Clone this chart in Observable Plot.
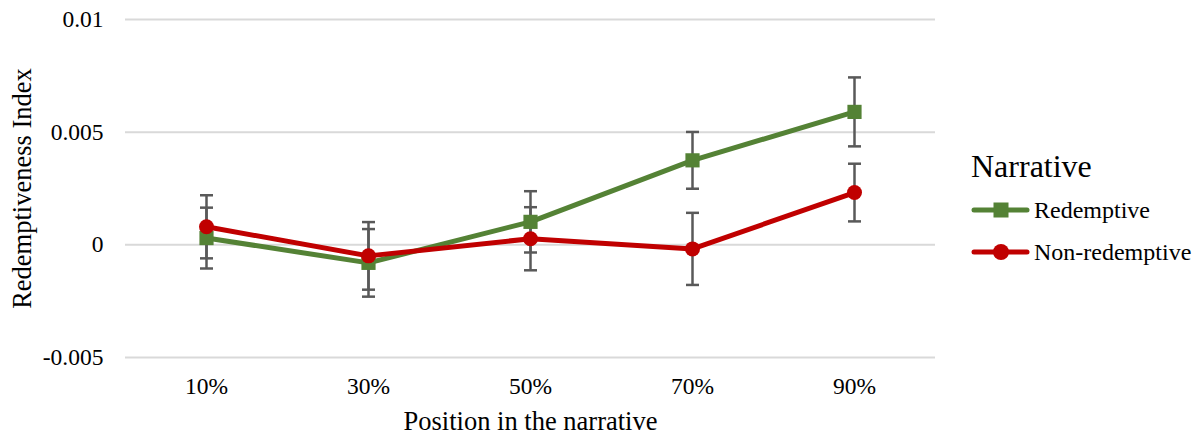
<!DOCTYPE html>
<html><head><meta charset="utf-8">
<script src="https://cdn.jsdelivr.net/npm/d3@7"></script>
<script src="https://cdn.jsdelivr.net/npm/@observablehq/plot@0.6"></script>
<style>
body{margin:0;background:#fff;font-family:"Liberation Serif",serif;}
#wrap{position:relative;width:1195px;height:437px;}
#wrap svg text{font-family:"Liberation Serif",serif;}
#legend{position:absolute;left:0;top:0;color:#000;font-family:"Liberation Serif",serif !important;}
#legend div{position:absolute;white-space:nowrap;font-family:"Liberation Serif",serif;}
#legend .title{font-size:32px;line-height:32px;left:971px;top:150px;}
#legend .item{display:flex;align-items:center;font-size:24px;height:30px;left:970px;}
#legend svg{margin-right:3px;}
</style></head>
<body><div id="wrap"><div id="legend"></div></div>
<script>
const positions = ["10%","30%","50%","70%","90%"];
const redemptive = [0.0003, -0.0008, 0.00102, 0.00375, 0.0059];
const redemptiveErr = [0.00135, 0.0015, 0.00136, 0.00126, 0.00153];
const nonRedemptive = [0.0008, -0.00049, 0.00027, -0.00018, 0.00232];
const nonRedemptiveErr = [0.0014, 0.0015, 0.0014, 0.0016, 0.00128];
const yTicks = [-0.005, 0, 0.005, 0.01];
const yTickLabels = ["-0.005", "0", "0.005", "0.01"];
const seriesNames = ["Redemptive", "Non-redemptive"];
const colors = ["#548235", "#C00000"];

const data = [];
positions.forEach((p, i) => {
  data.push({pos: p, series: seriesNames[0], v: redemptive[i], e: redemptiveErr[i]});
});
positions.forEach((p, i) => {
  data.push({pos: p, series: seriesNames[1], v: nonRedemptive[i], e: nonRedemptiveErr[i]});
});
const green = data.filter(d => d.series === seriesNames[0]);
const red = data.filter(d => d.series === seriesNames[1]);

const capSymbol = {draw(ctx, size){ const r = Math.sqrt(size/Math.PI); ctx.moveTo(-r,0); ctx.lineTo(r,0); }};

const chart = Plot.plot({
  width: 1195, height: 437,
  marginLeft: 125, marginRight: 260, marginTop: 19, marginBottom: 80,
  style: {fontFamily: '"Liberation Serif",serif', fontSize: "22px", color: "#000", background: "transparent"},
  x: {type: "point", domain: positions, padding: 0.5},
  y: {domain: [-0.005, 0.01]},
  marks: [
    Plot.gridY(yTicks, {stroke: "#d9d9d9", strokeOpacity: 1, strokeWidth: 2}),
    Plot.axisY(yTicks, {tickSize: 0, tickPadding: 22, tickFormat: (d) => yTickLabels[yTicks.indexOf(d)], label: null, fontSize: 23.5}),
    Plot.axisX({tickSize: 0, tickPadding: 20, label: null, fontSize: 23.5}),
    Plot.text(["Position in the narrative"], {frameAnchor: "bottom", dy: 72, fontSize: 26.5, fill: "#000"}),
    Plot.text(["Redemptiveness Index"], {frameAnchor: "left", textAnchor: "middle", dx: -103, rotate: -90, fontSize: 26.5, fill: "#000"}),
    Plot.ruleX(data, {x: "pos", y1: d => d.v - d.e, y2: d => d.v + d.e, stroke: "#595959", strokeWidth: 2.5}),
    Plot.dot(data, {x: "pos", y: d => d.v - d.e, symbol: capSymbol, r: 6.5, stroke: "#595959", strokeWidth: 2.5, fill: "none"}),
    Plot.dot(data, {x: "pos", y: d => d.v + d.e, symbol: capSymbol, r: 6.5, stroke: "#595959", strokeWidth: 2.5, fill: "none"}),
    Plot.line(green, {x: "pos", y: "v", stroke: colors[0], strokeWidth: 5}),
    Plot.dot(green, {x: "pos", y: "v", symbol: "square", r: 8, fill: colors[0], stroke: "none"}),
    Plot.line(red, {x: "pos", y: "v", stroke: colors[1], strokeWidth: 5}),
    Plot.dot(red, {x: "pos", y: "v", symbol: "circle", r: 7.5, fill: colors[1], stroke: "none"})
  ]
});
document.getElementById("wrap").prepend(chart);

const legend = document.getElementById("legend");
const itemTops = [195, 237];
legend.innerHTML = `<div class="title">Narrative</div>` + seriesNames.map((s, i) => {
  const sym = i === 0
    ? `<rect x="23.5" y="7.5" width="15" height="15" fill="${colors[i]}"/>`
    : `<circle cx="31" cy="15" r="8" fill="${colors[i]}"/>`;
  return `<div class="item" style="top:${itemTops[i]}px"><svg width="61" height="30"><line x1="4" y1="15" x2="57" y2="15" stroke="${colors[i]}" stroke-width="5" stroke-linecap="round"/>${sym}</svg><span>${s}</span></div>`;
}).join("");
</script></body></html>
